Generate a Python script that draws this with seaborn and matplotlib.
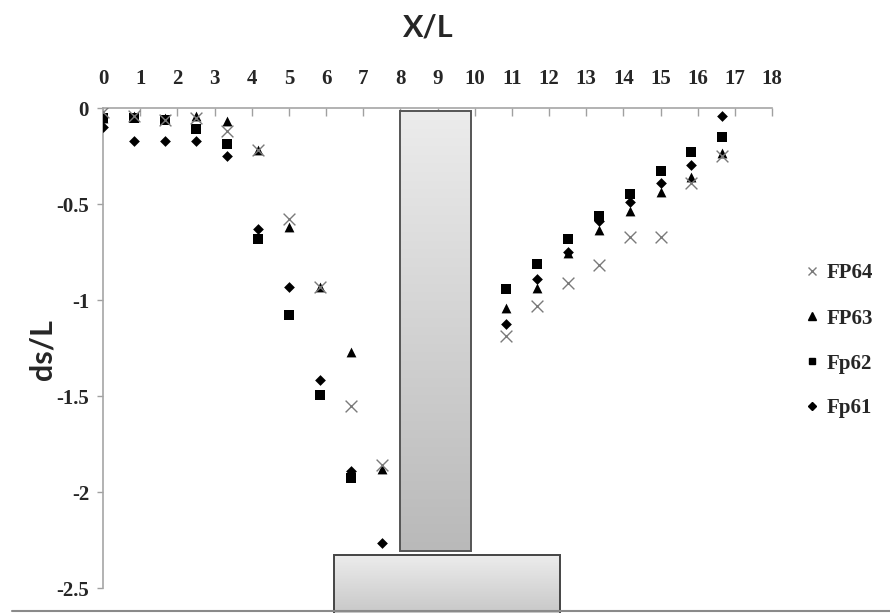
import numpy as np
import pandas as pd
import matplotlib
matplotlib.use("Agg")
import matplotlib.pyplot as plt
from matplotlib.lines import Line2D
from matplotlib.patches import Rectangle
import seaborn as sns

# ---- data ----
x_over_L = [0.0, 0.833, 1.667, 2.5, 3.333, 4.167, 5.0, 5.833, 6.667, 7.5,
            10.833, 11.667, 12.5, 13.333, 14.167, 15.0, 15.833, 16.667]
fp64 = [-0.02, -0.04, -0.06, -0.05, -0.12, -0.22, -0.58, -0.93, -1.55, -1.86,
        -1.19, -1.03, -0.91, -0.82, -0.67, -0.67, -0.39, -0.25]
fp63 = [-0.05, -0.04, -0.05, -0.04, -0.07, -0.22, -0.62, -0.93, -1.27, -1.88,
        -1.04, -0.94, -0.755, -0.635, -0.535, -0.435, -0.36, -0.235]
fp62 = [-0.05, -0.05, -0.06, -0.11, -0.19, -0.68, -1.08, -1.495, -1.925, np.nan,
        -0.945, -0.81, -0.68, -0.565, -0.45, -0.33, -0.23, -0.15]
fp61 = [-0.10, -0.17, -0.17, -0.17, -0.25, -0.63, -0.93, -1.415, -1.89, -2.265,
        -1.125, -0.89, -0.75, -0.59, -0.49, -0.39, -0.295, -0.04]
series_names = ["Fp61", "Fp62", "FP63", "FP64"]
x_ticks = list(range(0, 19))
y_ticks = [0, -0.5, -1, -1.5, -2, -2.5]
y_tick_labels = ["0", "-0.5", "-1", "-1.5", "-2", "-2.5"]

# pier and foundation outlines (in X/L, ds/L units)
pier_x = [8.0, 9.9]
pier_y = [-2.305, -0.015]
found_x = [6.22, 12.30]
found_y = [-2.65, -2.33]

sns.set_style("white")
plt.rcParams["font.family"] = ["Liberation Serif", "DejaVu Serif"]

W, H = 890, 613
fig = plt.figure(figsize=(W / 100, H / 100), dpi=100)
fig.patch.set_facecolor("white")
left, right, top, bottom = 103, 772, 108, 611
ax = fig.add_axes([left / W, 1 - bottom / H, (right - left) / W, (bottom - top) / H])

styles = {
    "Fp61": dict(marker="D", s=30, color="black", edgecolor="black", linewidth=0),
    "Fp62": dict(marker="s", s=52, color="black", edgecolor="black", linewidth=0),
    "FP63": dict(marker="^", s=50, color="black", edgecolor="black", linewidth=0),
    "FP64": dict(marker="x", s=72, color="#7a7a7a", linewidth=1.0),
}
values = {"Fp61": fp61, "Fp62": fp62, "FP63": fp63, "FP64": fp64}
for name in series_names:
    df = pd.DataFrame({"x": x_over_L, "y": values[name]}).dropna()
    sns.scatterplot(data=df, x="x", y="y", ax=ax, legend=False, zorder=4,
                    **styles[name])

# gradient rectangles
def grad_rect(xs, ys, c_top, c_bot, edge, lw):
    g = np.linspace(0, 1, 256).reshape(-1, 1)
    ct = np.array(matplotlib.colors.to_rgb(c_top))
    cb = np.array(matplotlib.colors.to_rgb(c_bot))
    img = ct[None, None, :] * (1 - g[..., None]) + cb[None, None, :] * g[..., None]
    ax.imshow(img, extent=[xs[0], xs[1], ys[0], ys[1]], origin="upper",
              aspect="auto", zorder=2, clip_on=False)
    ax.add_patch(Rectangle((xs[0], ys[0]), xs[1] - xs[0], ys[1] - ys[0],
                           fill=False, edgecolor=edge, linewidth=lw, zorder=3,
                           clip_on=False))

grad_rect(pier_x, pier_y, "#ececec", "#b9b9b9", "#555555", 1.4)
grad_rect(found_x, found_y, "#ececec", "#c6c6c6", "#444444", 1.4)

ax.set_xlim(0, 18)
ax.set_ylim(-(bottom - top) / 192.0, 0)

# axes styling
ax.xaxis.tick_top()
ax.set_xticks(x_ticks)
ax.set_xticklabels([str(t) for t in x_ticks])
ax.set_yticks(y_ticks)
ax.set_yticklabels(y_tick_labels)
ax.tick_params(axis="x", direction="in", length=6, width=1, color="#a0a0a0",
               pad=14, labelsize=15, top=True, bottom=False)
ax.tick_params(axis="y", direction="out", length=4, width=1, color="#a0a0a0",
               pad=6, labelsize=15, left=True)
for lab in ax.get_xticklabels() + ax.get_yticklabels():
    lab.set_fontweight("bold")
for s in ["right", "bottom"]:
    ax.spines[s].set_visible(False)
for s in ["top", "left"]:
    ax.spines[s].set_color("#a6a6a6")
    ax.spines[s].set_linewidth(1.2)
ax.spines["left"].set_bounds(-2.5, 0)
ax.set_xlabel("")
ax.set_ylabel("")

# axis titles
fig.text(428 / W, 1 - 28 / H, "X/L", ha="center", va="center", fontsize=22,
         fontweight="bold", family=["Lato", "DejaVu Sans"])
fig.text(42 / W, 1 - 350 / H, "ds/L", ha="center", va="center", fontsize=22,
         fontweight="bold", rotation=90, family=["Lato", "DejaVu Sans"])

# bottom border line
fig.add_artist(Line2D([12 / W, 1.0], [1 - 611 / H] * 2, transform=fig.transFigure,
                      color="#8a8a8a", linewidth=1.5))

# legend
handles = [
    Line2D([], [], linestyle="none", marker="x", markersize=6, color="#7a7a7a",
           markeredgewidth=1.0),
    Line2D([], [], linestyle="none", marker="^", markersize=6, color="black"),
    Line2D([], [], linestyle="none", marker="s", markersize=5, color="black"),
    Line2D([], [], linestyle="none", marker="D", markersize=4.5, color="black"),
]
labels = ["FP64", "FP63", "Fp62", "Fp61"]
leg = fig.legend(handles, labels, loc="center left",
                 bbox_to_anchor=(793 / W, 1 - 341 / H), frameon=False,
                 prop=dict(family="Liberation Serif", weight="bold", size=15),
                 handlelength=0.8, handletextpad=0.3, labelspacing=1.2,
                 borderpad=0)

fig.savefig("out.png", dpi=100, facecolor="white")
